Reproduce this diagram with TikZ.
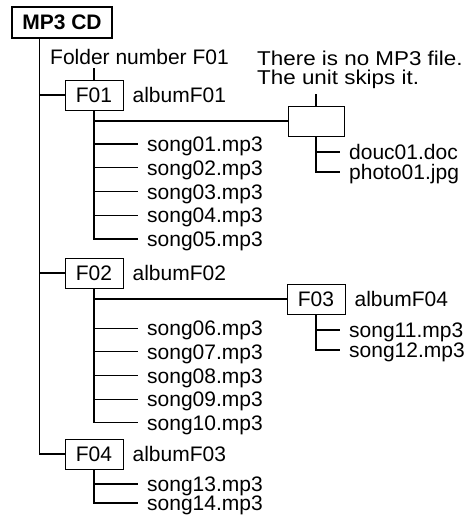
\documentclass[tikz,border=0pt]{standalone}
\usepackage{fontspec}
\setmainfont{Liberation Sans}
\newfontfamily\widefont[FakeStretch=1.12]{Liberation Sans}
\usetikzlibrary{positioning}
\tikzset{
  folder/.style={draw,line width=0.9pt,minimum width=58pt,minimum height=30pt,inner sep=0pt},
  lbl/.style={inner sep=0pt,text height=15pt,text depth=0pt},
  song/.style={lbl,anchor=west,inner xsep=9pt},
  wire/.style={line width=1.1pt},
}
\begin{document}
\begin{tikzpicture}[x=1pt,y=-1pt,font=\fontsize{21}{18}\selectfont]
\useasboundingbox (0,0) rectangle (469,516);
% root and trunk
\node[draw,line width=2.4pt,minimum width=100pt,minimum height=31pt,inner sep=0pt,font=\fontsize{21}{18}\selectfont\bfseries] (cd) at (62,22.5) {MP3 CD};
\coordinate (trunk) at ([xshift=29pt]cd.south west);
\node[lbl,anchor=base west,inner ysep=3pt] (fnum) at (50,65) {Folder number F01};
% folders
\node[folder] (f01) at (94,95) {F01};
\node[lbl,right=9pt of f01] (a01) {albumF01};
\node[folder] (f02) at (94,273) {F02};
\node[lbl,right=9pt of f02] (a02) {albumF02};
\node[folder] (f04) at (94,454) {F04};
\node[lbl,right=9pt of f04] (a04) {albumF03};
\node[folder] (f03) at (316,299) {F03};
\node[lbl,right=9pt of f03] (a03) {albumF04};
\node[folder,minimum width=56pt] (nomp3) at (316,121) {};
\node[align=left,inner xsep=0pt,inner ysep=5pt,anchor=north west,font=\widefont\fontsize{20}{19}\selectfont] (note) at (257,46) {There is no MP3 file.\\The unit skips it.};
% files
\foreach \n [count=\k from 0] in {01,02,03,04,05} \node[song] (s\n) at (138,{144+23.75*\k}) {song\n.mp3};
\foreach \n [count=\k from 0] in {06,07,08,09,10} \node[song] (s\n) at (138,{328.3+23.6*\k}) {song\n.mp3};
\node[song] (s11) at (340,330) {song11.mp3};
\node[song] (s12) at (340,350) {song12.mp3};
\node[song] (s13) at (138,484) {song13.mp3};
\node[song] (s14) at (138,503) {song14.mp3};
\node[song] (doc) at (340,152) {douc01.doc};
\node[song] (jpg) at (340,172) {photo01.jpg};
% connectors
\foreach \f in {f01,f02,f04} \draw[wire] (trunk) |- (\f.west);
\draw[wire] (f01.north) -- (f01.north |- fnum.south);
\draw[wire] (nomp3.north) -- (nomp3.north |- note.south);
\draw[wire] (f01.south) |- (nomp3.west);
\draw[wire] (f02.south) |- (f03.west);
\foreach \n in {01,02,03,04,05} \draw[wire] (f01.south) |- (s\n.west);
\foreach \n in {06,07,08,09,10} \draw[wire] (f02.south) |- (s\n.west);
\foreach \n in {11,12} \draw[wire] (f03.south) |- (s\n.west);
\foreach \n in {13,14} \draw[wire] (f04.south) |- (s\n.west);
\foreach \n in {doc,jpg} \draw[wire] (nomp3.south) |- (\n.west);
\end{tikzpicture}
\end{document}
